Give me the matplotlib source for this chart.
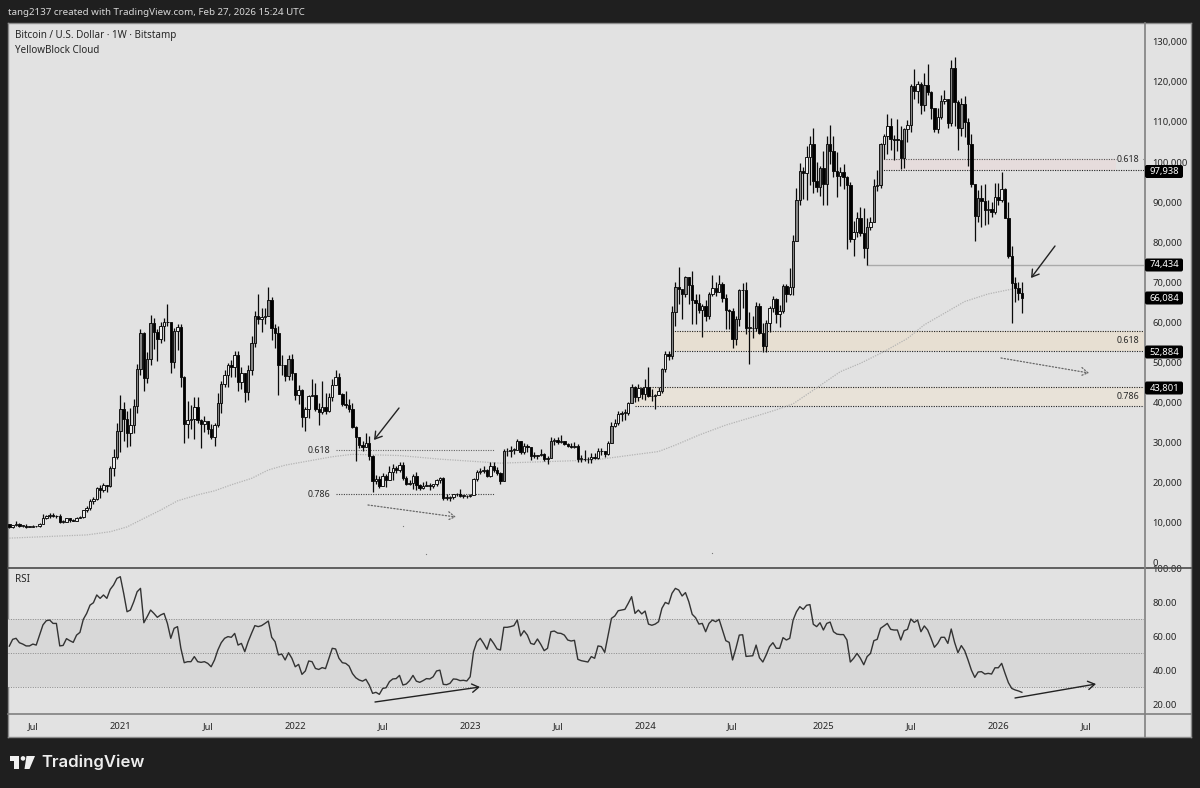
import matplotlib
matplotlib.use("Agg")
import matplotlib.pyplot as plt
from matplotlib.patches import Rectangle, Polygon, Circle, FancyBboxPatch

plt.rcParams['font.family'] = ['Noto Sans', 'DejaVu Sans']

# ---- weekly candles (thousand USD), first bar = week of 18 May 2020 ----
first_open = 9.7
closes = [
 8.9,9.45,9.65,9.3,9.3,9.0,9.05,9.25,9.2,9.7,
 11.1,11.6,11.85,11.65,11.7,10.25,10.3,11.1,10.75,10.55,
 11.3,11.35,13.1,13.75,15.5,16.0,18.7,18.2,19.4,19.2,
 23.8,26.5,33.0,38.3,36.0,32.3,34.3,39.2,48.5,57.4,
 46.2,50.9,59.9,57.5,55.8,59.0,60.0,60.0,50.1,57.8,
 58.8,46.4,34.7,35.6,35.8,39.0,35.6,34.7,35.3,33.5,
 31.5,34.3,39.8,44.6,47.0,49.3,48.9,51.8,45.1,47.3,
 42.7,48.2,54.9,61.5,60.8,61.3,61.5,65.5,58.6,57.3,
 49.4,49.3,46.7,50.8,47.3,41.9,43.1,36.3,38.5,41.6,
 42.0,38.3,37.7,38.8,37.8,41.3,44.5,46.3,42.2,39.7,
 39.4,38.5,34.0,31.3,29.4,29.0,29.9,26.6,20.5,21.0,
 19.3,21.6,20.8,22.6,23.6,23.2,24.4,21.1,19.6,20.0,
 21.8,19.4,18.8,19.3,19.4,19.3,19.6,20.6,21.3,16.3,
 16.3,16.5,17.1,17.1,16.8,16.8,16.6,17.0,20.9,22.7,
 23.0,23.3,21.8,24.3,23.2,22.4,20.5,27.9,28.0,28.2,
 28.3,30.3,27.6,29.3,28.9,26.8,26.7,26.9,27.1,25.9,
 26.3,30.5,30.6,30.2,30.3,29.8,29.3,29.0,29.3,26.0,
 26.0,25.9,25.9,26.5,26.2,28.0,27.9,27.1,29.9,34.1,
 35.0,37.1,37.4,37.5,39.9,44.0,41.4,43.7,42.2,43.9,
 41.7,41.6,42.0,43.0,48.3,52.1,51.7,62.5,68.9,68.4,
 67.2,71.3,69.4,65.7,64.9,63.1,64.0,61.5,67.0,68.5,
 67.7,69.6,66.2,63.2,62.8,55.9,60.8,68.0,68.2,58.7,
 58.7,58.5,64.2,57.3,54.1,59.9,63.6,65.9,62.1,62.9,
 69.0,67.0,68.8,80.4,90.5,97.7,97.3,101.2,104.5,95.2,
 93.7,98.4,94.5,104.5,102.7,97.7,96.5,97.5,96.2,94.2,
 80.7,82.6,86.0,82.4,78.5,83.7,85.0,94.0,94.3,104.6,
 106.4,109.0,105.7,105.6,105.5,100.9,108.3,109.2,119.0,117.6,
 119.4,114.2,119.3,117.4,113.5,108.3,111.1,115.3,115.7,109.7,
 123.5,115.0,108.4,114.5,110.0,104.5,94.5,86.6,91.0,90.3,
 88.0,88.3,87.5,91.3,90.5,93.3,86.0,76.5,69.9,68.6,67.3,66.084]
highs = [
 9.8,9.6,10.4,10.0,9.6,9.8,9.3,9.5,9.3,9.9,
 12.1,12.0,12.4,12.5,11.9,12.1,10.7,11.2,11.0,11.0,
 11.5,11.7,13.3,14.1,15.95,16.5,18.95,19.4,19.9,19.4,
 24.3,28.4,34.8,41.9,40.2,37.9,38.6,40.9,49.7,58.3,
 57.5,52.6,61.8,61.0,58.4,60.2,61.2,64.6,57.0,58.5,
 59.6,59.6,46.6,40.4,39.5,41.3,41.3,36.0,36.6,35.1,
 34.6,34.8,42.5,45.3,48.1,49.8,50.5,52.9,52.9,48.9,
 47.3,49.3,56.6,62.9,67.0,63.7,63.7,68.9,66.4,59.5,
 59.2,51.9,49.5,51.9,52.0,47.5,44.4,43.5,38.9,41.9,
 45.8,44.8,39.8,45.4,42.5,42.4,46.0,48.1,47.5,42.3,
 42.9,40.8,40.0,34.2,31.5,30.5,32.3,31.7,26.9,21.9,
 21.6,22.4,22.3,24.3,24.6,24.2,25.2,25.1,21.8,20.6,
 22.3,22.8,19.7,20.2,20.4,19.9,19.7,21.0,21.4,21.4,
 17.2,16.7,17.3,17.4,18.4,17.0,16.9,17.2,21.3,23.3,
 23.8,24.2,23.4,25.2,25.1,23.9,22.6,28.5,28.8,29.2,
 28.8,31.0,30.5,30.0,29.8,29.0,27.6,27.0,28.4,27.4,
 26.8,31.4,31.2,31.5,31.8,30.4,30.0,29.9,30.2,29.7,
 26.9,28.1,26.4,27.4,27.4,28.6,28.6,28.0,30.3,35.2,
 35.9,37.9,37.9,38.4,40.2,44.7,44.2,44.7,43.5,45.8,
 48.9,43.5,42.2,43.9,48.6,52.8,52.9,64.0,70.1,73.7,
 68.1,71.6,71.3,72.7,67.2,67.2,64.7,65.5,67.7,71.9,
 70.0,71.9,70.0,67.0,63.4,63.7,61.7,68.4,69.9,70.0,
 62.7,61.7,65.0,64.9,59.8,60.6,64.1,66.5,66.0,64.4,
 69.5,69.5,73.6,81.7,93.5,99.8,98.7,104.0,106.5,108.4,
 99.9,99.0,102.7,106.4,109.3,106.4,102.5,98.8,99.5,96.5,
 95.0,85.3,87.5,88.8,88.5,86.1,86.4,95.7,97.9,104.8,
 107.1,111.9,111.0,106.8,110.6,108.9,108.5,110.5,119.4,123.2,
 120.1,119.9,122.3,124.4,117.6,113.5,113.4,116.7,117.9,115.5,
 125.4,126.2,115.5,116.0,116.4,111.0,107.0,94.0,93.0,94.2,
 94.5,90.5,90.0,94.8,94.7,97.6,93.5,90.0,79.0,71.3,70.0,70.0]
lows = [
 8.8,8.65,9.3,8.9,8.9,8.8,8.9,9.0,9.0,9.1,
 9.9,10.9,11.1,11.4,11.1,9.9,9.9,10.2,10.1,10.4,
 10.5,11.2,11.3,12.8,13.2,14.8,15.8,16.3,17.6,17.6,
 19.0,21.8,26.0,27.7,30.3,28.9,29.2,32.3,37.4,47.0,
 43.0,45.0,49.3,53.3,50.4,54.9,55.4,59.0,47.5,48.7,
 53.0,43.8,30.0,31.2,33.4,31.0,34.8,28.7,32.7,32.2,
 31.0,29.3,34.0,37.4,43.8,43.9,46.4,46.5,42.8,43.4,
 40.1,40.7,46.9,53.9,59.5,57.5,59.5,62.3,55.6,53.5,
 41.9,46.8,45.5,45.6,45.7,40.6,39.6,34.0,32.9,36.2,
 41.7,38.0,34.3,37.2,37.2,37.6,40.5,44.3,42.1,39.2,
 38.6,37.6,33.7,25.4,28.6,28.0,29.3,25.7,17.6,19.6,
 18.6,19.3,18.9,20.7,20.7,22.4,22.7,20.7,19.5,19.5,
 18.5,18.3,18.2,18.5,19.1,18.2,18.6,19.3,20.0,15.6,
 15.8,15.4,16.0,16.7,16.5,16.3,16.3,16.5,17.2,20.4,
 22.3,22.5,21.4,21.5,22.7,21.9,19.6,20.5,26.6,26.5,
 27.2,28.2,27.2,27.2,27.7,25.8,26.2,25.9,26.6,25.4,
 24.8,26.2,29.5,29.7,30.0,29.5,29.0,28.7,28.8,25.1,
 25.3,25.4,24.9,24.9,26.0,26.0,27.0,26.5,26.9,29.9,
 33.9,34.5,35.5,35.7,36.9,39.9,40.2,40.5,41.0,40.7,
 41.5,40.3,38.4,41.8,42.3,47.6,50.5,50.9,59.2,64.6,
 60.8,66.4,64.5,59.7,59.7,62.4,56.4,60.3,60.8,66.6,
 66.7,67.6,65.0,58.4,58.4,53.5,54.3,59.0,63.5,57.1,
 49.6,56.1,57.8,57.2,52.5,52.5,57.5,62.6,59.9,58.9,
 62.4,65.1,66.8,66.8,80.2,89.4,90.8,90.5,94.2,92.2,
 92.5,91.5,89.3,89.2,99.5,96.2,91.2,94.0,93.3,78.2,
 80.0,76.6,81.2,81.6,76.0,74.434,83.0,85.0,92.8,93.5,
 100.7,102.1,103.1,100.4,102.7,98.2,98.5,105.0,107.5,115.7,
 114.7,112.0,112.7,116.8,110.7,107.4,107.3,110.6,114.4,108.6,
 109.0,109.0,103.0,106.5,106.3,99.0,93.7,80.4,85.1,83.8,
 84.4,84.5,86.4,87.0,89.3,90.0,86.0,76.0,59.9,65.0,65.6,62.4]

# ---- RSI, one value per week ----
rsi = [
 54.2,58.2,58.8,56.2,55.4,54.3,54.3,55.4,54.8,60.7,
 66.7,69.2,69.6,67.6,67.6,54.3,54.6,58.6,57.4,56.4,
 60.7,62.3,70.0,73.5,78.4,79.8,84.4,82.4,84.4,82.4,
 87.7,90.3,94.2,95.2,85.4,74.5,75.5,80.4,86.3,88.3,
 68.0,71.6,75.5,73.5,71.2,72.6,73.5,67.6,58.8,64.7,
 65.7,52.9,44.4,45.0,45.0,48.0,45.0,44.6,45.0,44.0,
 42.0,46.0,51.9,56.2,58.8,59.8,59.4,61.7,54.8,55.8,
 50.9,56.8,61.7,66.3,65.7,66.3,67.6,69.0,59.4,56.8,
 49.0,49.5,46.0,50.3,47.0,42.0,43.4,37.5,39.5,45.4,
 45.0,41.0,40.4,41.5,40.9,47.0,52.9,52.5,47.0,44.4,
 44.0,42.4,38.0,35.5,34.2,33.5,34.6,31.2,26.3,26.9,
 25.7,29.2,29.6,33.2,34.8,35.0,36.9,31.2,31.8,33.8,
 36.9,33.5,32.8,33.8,35.0,34.8,36.1,39.5,40.0,31.6,
 31.4,32.2,34.8,34.6,33.8,34.0,33.6,36.1,50.9,56.8,
 58.8,55.8,52.3,58.6,55.8,52.5,51.9,65.3,65.3,65.7,
 66.3,69.6,60.2,63.3,60.7,55.8,55.2,58.4,55.2,51.5,
 52.9,62.7,63.1,61.9,61.7,60.7,57.8,57.2,57.6,46.4,
 45.6,45.2,44.8,48.0,47.0,54.3,53.9,50.5,60.7,70.6,
 72.0,75.1,75.5,75.9,79.5,83.4,73.5,75.5,73.2,74.9,
 67.2,66.5,67.2,68.6,76.5,80.0,79.1,85.4,88.3,87.3,
 83.8,85.8,80.4,73.0,71.0,67.2,67.6,62.7,67.6,69.6,
 68.6,70.0,63.7,57.4,56.4,46.0,52.9,60.7,60.9,48.1,
 48.3,48.5,54.8,47.3,44.8,49.0,53.9,56.2,52.9,52.9,
 59.2,57.8,58.8,69.6,74.5,77.5,75.9,78.3,78.7,67.1,
 65.7,68.0,63.7,67.6,68.4,62.7,61.3,61.0,61.0,57.8,
 44.8,47.0,49.9,47.0,43.2,48.0,49.9,57.4,58.2,64.7,
 66.1,67.6,64.1,63.7,63.7,57.8,63.3,64.1,70.2,68.2,
 69.6,62.7,66.1,63.7,58.8,53.5,55.8,59.4,59.4,55.8,
 64.3,56.4,50.3,54.5,51.5,46.0,40.0,35.7,38.9,39.1,
 37.7,38.1,37.7,41.4,41.4,44.0,38.1,32.6,29.2,28.3,27.7,26.9]

# ---- YellowBlock Cloud line (sampled week, thousand USD) ----
cloud_weeks = [0,17,23,30,35,39,45,50,56,61,66,72,77,82,88,96,102,116,128,146,164,174,183,193,198,205,213,223,228,233,239,247,253,260,267,272,278,284,291,298]
cloud_vals = [6.2,6.8,7.0,7.8,9.0,10.7,13.2,15.5,17.0,18.0,19.5,21.1,23.2,24.4,25.3,26.5,27.1,26.8,25.9,24.9,25.4,25.7,26.7,27.8,29.4,31.9,34.4,36.9,38.2,39.7,43.1,47.7,49.8,52.7,56.0,59.4,62.3,65.2,67.1,68.3]

price_ticks = [0,10000,20000,30000,40000,50000,60000,70000,80000,90000,100000,110000,120000,130000]
rsi_ticks = [20,40,60,80,100]
time_ticks = [7,33,59,85,111,137,163,189,215,242,268,294,320]
time_labels = ['Jul','2021','Jul','2022','Jul','2023','Jul','2024','Jul','2025','Jul','2026','Jul']
tags = [('97,938',171.5),('74,434',265),('66,084',298),('52,884',352),('43,801',388)]

W, H = 1200, 788
PANE = '#e2e2e2'
DARK = '#1f1f1f'
TXT = '#262626'

def rect(x0, y0, x1, y1):
    return [x0/W, 1-y1/H, (x1-x0)/W, (y1-y0)/H]

fig = plt.figure(figsize=(12, 7.88), dpi=100, facecolor=DARK)

bg = fig.add_axes(rect(8, 23, 1191, 737), facecolor=PANE, zorder=0)
bg.set_xticks([]); bg.set_yticks([])
for s in bg.spines.values():
    s.set_color('#8c8c8c'); s.set_linewidth(1)

# x: week index -> pixels 9.3 + 3.364 i ; y: 563 - 0.00401 p
xlim = ((8-9.3)/3.364, (1144-9.3)/3.364)

ax = fig.add_axes(rect(8, 23, 1144, 567), facecolor='none', zorder=1)
ax.set_xlim(*xlim)
ax.set_ylim((563-567)/0.00401, (563-23)/0.00401)

idx = list(range(len(closes)))
c = [v*1000 for v in closes]
o = [first_open*1000] + c[:-1]
h = [v*1000 for v in highs]
l = [v*1000 for v in lows]

def zone(a, i0, i1, top, bot, fill):
    a.fill_between([i0, i1], [bot, bot], [top, top], color=fill, lw=0, zorder=1)

zone(ax, 259, 329, 100700, 97938, '#e6dcdc')
zone(ax, 197, xlim[1], 57900, 52884, '#e7dfd2')
zone(ax, 186, xlim[1], 43801, 39200, '#e8e2d8')

DOT = dict(color='#222222', lw=0.8, ls=(0, (1, 1.2)), zorder=2)
ax.plot([259, 329], [100700, 100700], **{**DOT, 'color': '#555555'})
ax.plot([337, xlim[1]], [100700, 100700], **{**DOT, 'color': '#555555'})
ax.plot([259, xlim[1]], [97938, 97938], **DOT)
ax.plot([197, xlim[1]], [57900, 57900], **DOT)
ax.plot([197, xlim[1]], [52884, 52884], **DOT)
ax.plot([186, xlim[1]], [43801, 43801], **DOT)
ax.plot([186, xlim[1]], [39200, 39200], **DOT)
ax.plot([97, 144], [28200, 28200], color='#666666', lw=0.8, ls=(0, (1, 1.2)), zorder=2)
ax.plot([97, 144], [17200, 17200], color='#444444', lw=0.8, ls=(0, (1, 1.2)), zorder=2)
ax.plot([255, xlim[1]], [74434, 74434], color='#aaaaaa', lw=1, zorder=2)

ax.plot(cloud_weeks, [v*1000 for v in cloud_vals], color='#b4b4b4', lw=0.9, ls=(0, (1, 1)), zorder=3)

ax.vlines(idx, l, h, color='#0a0a0a', lw=0.9, zorder=4)
bottoms = [min(a, b) for a, b in zip(o, c)]
heights = [max(abs(a-b), 150) for a, b in zip(o, c)]
faces = [('#000000' if b < a else ('#858585' if b-a >= 4000 else '#ececec')) for a, b in zip(o, c)]
ax.bar(idx, heights, bottom=bottoms, width=0.72, color=faces, edgecolor='#0a0a0a', linewidth=0.65, zorder=5)

ax.yaxis.tick_right()
ax.set_yticks(price_ticks)
ax.set_yticklabels([f'{t:,}' for t in price_ticks], fontsize=6.8, color=TXT)
ax.tick_params(axis='y', length=0, pad=6)
ax.set_xticks([])
for s in ax.spines.values():
    s.set_visible(False)

# ---- RSI pane
ar = fig.add_axes(rect(8, 568, 1144, 714), facecolor='none', zorder=1)
ar.set_xlim(*xlim)
ar.set_ylim(20+(704-714)/1.693, 20+(704-568)/1.693)
ar.axhspan(30, 70, color='#d8d8d8', lw=0, zorder=1)
for lev in (70, 50, 30):
    ar.axhline(lev, color='#8a8a8a', lw=0.7, ls=(0, (1, 1.5)), zorder=2)
ar.plot(idx, rsi, color='#333333', lw=1.0, zorder=3)
ar.yaxis.tick_right()
ar.set_yticks(rsi_ticks)
ar.set_yticklabels([f'{t:.2f}' for t in rsi_ticks], fontsize=6.8, color=TXT)
ar.tick_params(axis='y', length=0, pad=6)
ar.set_xticks(time_ticks)
ar.set_xticklabels(time_labels, fontsize=6.8, color=TXT)
for t, lab in zip(ar.get_xticklabels(), time_labels):
    if lab != 'Jul':
        t.set_fontweight('bold')
ar.tick_params(axis='x', length=0, pad=6)
for s in ar.spines.values():
    s.set_visible(False)

# ---- overlay in pixels: frame lines, texts, drawings
ov = fig.add_axes([0, 0, 1, 1], facecolor='none', zorder=5)
ov.set_xlim(0, W); ov.set_ylim(H, 0); ov.axis('off')

ov.plot([8, 1191], [567.5, 567.5], color='#4a4a4a', lw=1.2)
ov.plot([8, 1191], [714, 714], color='#808080', lw=1.2)
ov.plot([1144.5, 1144.5], [23, 737], color='#808080', lw=1.2)

ov.text(8, 12.5, 'tang2137 created with TradingView.com, Feb 27, 2026 15:24 UTC', color='#d8d8d8', fontsize=7.05, va='center')
ov.text(15, 35, 'Bitcoin / U.S. Dollar · 1W · Bitstamp', color=TXT, fontsize=7.1, va='center')
ov.text(15, 50, 'YellowBlock Cloud', color=TXT, fontsize=7.1, va='center')
ov.text(15, 580, 'RSI', color=TXT, fontsize=7.1, va='center')

for txt, x, y in [('0.618', 1128, 159), ('0.618', 1128, 340), ('0.786', 1128, 396), ('0.618', 319, 450), ('0.786', 319, 494)]:
    ov.text(x, y, txt, color=TXT, fontsize=6.4, ha='center', va='center')

for txt, y in tags:
    ov.add_patch(FancyBboxPatch((1146, y-5.5), 36, 11, boxstyle='round,pad=1,rounding_size=2', fc='#000000', ec='none', zorder=6))
    ov.text(1164.5, y, txt, color='white', fontsize=6.8, fontweight='bold', ha='center', va='center', zorder=7)

def arrow(p0, p1, color='#222222', ls='-', lw=1.0):
    ov.annotate('', xy=p1, xytext=p0,
                arrowprops=dict(arrowstyle='->,head_length=0.4,head_width=0.25', color=color, lw=lw, ls=ls, shrinkA=0, shrinkB=0, mutation_scale=12))

arrow((399, 408), (374, 440))
arrow((1055, 246), (1031, 278))
arrow((375, 702), (480, 687))
arrow((1015, 698), (1096, 684))
arrow((368, 505), (456, 517), color='#666666', ls=(0, (1, 1.6)), lw=0.9)
arrow((1001, 358), (1089, 373), color='#666666', ls=(0, (1, 1.6)), lw=0.9)
ov.scatter([403, 426, 712], [526, 554, 553], s=0.8, color='#777777', lw=0)

# TradingView logo
ov.add_patch(Polygon([(10, 756), (18.5, 756), (18.5, 769), (14, 769), (14, 760.5), (10, 760.5)], fc='#f0f0f0', ec='none'))
ov.add_patch(Circle((23, 758.4), 2.3, fc='#f0f0f0', ec='none'))
ov.add_patch(Polygon([(26.5, 756), (35, 756), (29.5, 769), (24.5, 769)], fc='#f0f0f0', ec='none'))
ov.text(41.5, 762.5, 'TradingView', color='#eeeeee', fontsize=12, fontweight='semibold', va='center', family=['Inter', 'Noto Sans'])

fig.savefig('out.png', dpi=100, facecolor=DARK)
